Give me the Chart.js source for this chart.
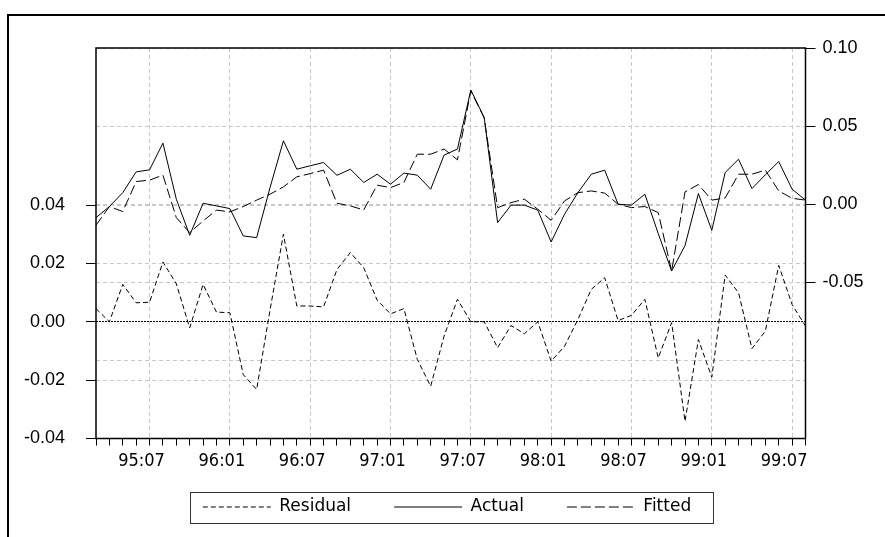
<!DOCTYPE html>
<html>
<head>
<meta charset="utf-8">
<title>Residual / Actual / Fitted</title>
<script src="https://cdn.jsdelivr.net/npm/chart.js@4.4.1/dist/chart.umd.min.js"></script>
<style>
  html, body { margin: 0; padding: 0; background: #fff; overflow: hidden; }
  #moldura {
    position: absolute; left: 7px; top: 14px; width: 1000px; height: 700px;
    border-left: 2px solid #000; border-top: 2px solid #000;
  }
  #wrap { position: absolute; left: 0; top: 0; width: 885px; height: 537px; }
</style>
</head>
<body>
<div id="moldura"></div>
<div id="wrap"><canvas id="chart-resid"></canvas></div>
<script>
// monthly sample 1995:03 - 1999:08
const meses = [
  "95:03", "95:04", "95:05", "95:06", "95:07", "95:08", "95:09", "95:10", "95:11", "95:12",
  "96:01", "96:02", "96:03", "96:04", "96:05", "96:06", "96:07", "96:08", "96:09", "96:10", "96:11", "96:12",
  "97:01", "97:02", "97:03", "97:04", "97:05", "97:06", "97:07", "97:08", "97:09", "97:10", "97:11", "97:12",
  "98:01", "98:02", "98:03", "98:04", "98:05", "98:06", "98:07", "98:08", "98:09", "98:10", "98:11", "98:12",
  "99:01", "99:02", "99:03", "99:04", "99:05", "99:06", "99:07", "99:08"
];

const xTickLabels = ["95:07", "96:01", "96:07", "97:01", "97:07", "98:01", "98:07", "99:01", "99:07"];

// right axis
const actual = [
  -0.0086, -0.0015, 0.0074, 0.0207, 0.0220, 0.0391, 0.0032, -0.0199, 0.0006, -0.0011,
  -0.0028, -0.0203, -0.0214, 0.0106, 0.0406, 0.0224, 0.0246, 0.0267, 0.0185, 0.0224,
  0.0139, 0.0192, 0.0128, 0.0199, 0.0186, 0.0096, 0.0314, 0.0353, 0.0731, 0.0555,
  -0.0118, -0.0006, -0.0006, -0.0038, -0.0242, -0.0064, 0.0074, 0.0192, 0.0218, 0.0000,
  -0.0006, 0.0064, -0.0188, -0.0428, -0.0265, 0.0068, -0.0167, 0.0203, 0.0288, 0.0100,
  0.0188, 0.0273, 0.0096, 0.0026
];

const fitted = [
  -0.0135, -0.0015, -0.0047, 0.0145, 0.0154, 0.0186, -0.0086, -0.0182, -0.0107, -0.0038,
  -0.0049, -0.0015, 0.0026, 0.0064, 0.0111, 0.0175, 0.0196, 0.0218, 0.0006, -0.0011,
  -0.0037, 0.0122, 0.0106, 0.0139, 0.0320, 0.0320, 0.0353, 0.0284, 0.0726, 0.0551,
  -0.0022, 0.0010, 0.0032, -0.0032, -0.0103, 0.0021, 0.0074, 0.0085, 0.0071, 0.0000,
  -0.0022, -0.0015, -0.0054, -0.0428, 0.0079, 0.0126, 0.0026, 0.0040, 0.0192, 0.0192,
  0.0218, 0.0085, 0.0038, 0.0026
];

// left axis
const residual = [
  0.0045, 0.0000, 0.0128, 0.0065, 0.0067, 0.0205, 0.0130, -0.0021, 0.0128, 0.0033,
  0.0031, -0.0181, -0.0232, 0.0040, 0.0300, 0.0054, 0.0054, 0.0051, 0.0179, 0.0237,
  0.0185, 0.0074, 0.0027, 0.0045, -0.0129, -0.0221, -0.0049, 0.0077, 0.0000, 0.0000,
  -0.0089, -0.0013, -0.0041, 0.0000, -0.0135, -0.0084, 0.0008, 0.0111, 0.0151, 0.0004,
  0.0022, 0.0077, -0.0124, -0.0003, -0.0341, -0.0061, -0.0190, 0.0160, 0.0099, -0.0092,
  -0.0032, 0.0193, 0.0059, -0.0015
];

const residTicks = [-0.04, -0.02, 0, 0.02, 0.04];
const levelTicks = [-0.10, -0.05, 0, 0.05, 0.10];

const GRID = "#c8c8c8";
const fonteEixo = { family: "'Liberation Sans', Arial, sans-serif", size: 18 };
const fonteData = { family: "'DejaVu Sans Condensed', 'DejaVu Sans', sans-serif", size: 18 };

// black frame round the plot area
const molduraPlot = {
  id: "molduraPlot",
  afterDatasetsDraw(chart) {
    const { ctx, chartArea: a } = chart;
    ctx.save();
    ctx.strokeStyle = "#000";
    ctx.lineWidth = 1.5;
    ctx.strokeRect(a.left, a.top, a.right - a.left, a.bottom - a.top);
    ctx.restore();
  }
};

// box round the legend items
const quadroLegenda = {
  id: "quadroLegenda",
  afterDraw(chart) {
    const boxes = chart.legend && chart.legend.legendHitBoxes;
    if (!boxes || boxes.length === 0) return;
    const first = boxes[0];
    const last = boxes[boxes.length - 1];
    const yc = first.top + first.height / 2;
    const x0 = Math.round(first.left - 13) + 0.5;
    const x1 = Math.round(last.left + last.width + 22) + 0.5;
    const ctx = chart.ctx;
    ctx.save();
    ctx.strokeStyle = "#333";
    ctx.lineWidth = 1;
    ctx.strokeRect(x0, Math.round(yc - 15.5) + 0.5, x1 - x0, 31);
    ctx.restore();
  }
};

// legend line samples keep each dataset's dash
function gerarLegenda(chart) {
  const itens = Chart.defaults.plugins.legend.labels.generateLabels(chart);
  return itens.map(item => {
    const ds = chart.data.datasets[item.datasetIndex];
    item.lineDash = ds.borderDash || [];
    item.lineWidth = ds.borderWidth;
    item.strokeStyle = ds.borderColor;
    return item;
  });
}

const ctx = document.getElementById("chart-resid").getContext("2d");

new Chart(ctx, {
  type: "line",
  data: {
    labels: meses,
    datasets: [
      {
        label: "Residual",
        data: residual,
        yAxisID: "y",
        borderColor: "#000",
        borderWidth: 1,
        borderDash: [5, 3],
        pointRadius: 0,
        pointStyle: "line",
        tension: 0
      },
      {
        label: "Actual",
        data: actual,
        yAxisID: "y2",
        borderColor: "#000",
        borderWidth: 1,
        pointRadius: 0,
        pointStyle: "line",
        tension: 0
      },
      {
        label: "Fitted",
        data: fitted,
        yAxisID: "y2",
        borderColor: "#000",
        borderWidth: 1,
        borderDash: [10, 4],
        pointRadius: 0,
        pointStyle: "line",
        tension: 0
      }
    ]
  },
  options: {
    responsive: true,
    maintainAspectRatio: false,
    animation: false,
    layout: { padding: { left: 9, right: 0, top: 48, bottom: 11.5 } },
    plugins: {
      tooltip: { enabled: false },
      legend: {
        position: "bottom",
        labels: {
          color: "#000",
          font: { family: "'DejaVu Sans', sans-serif", size: 17 },
          usePointStyle: true,
          pointStyleWidth: 68,
          boxHeight: 17,
          padding: 43,
          generateLabels: gerarLegenda
        }
      }
    },
    scales: {
      x: {
        offset: false,
        // short axis box; mirrored labels are not clipped to it
        afterFit: s => { s.height = 17; },
        ticks: {
          autoSkip: false,
          maxRotation: 0,
          mirror: true,
          labelOffset: -8,
          padding: -34,
          color: "#000",
          font: fonteData,
          callback: (v, i) => (xTickLabels.includes(meses[i]) ? meses[i] : "")
        },
        grid: {
          color: c => (c.tick && xTickLabels.includes(meses[c.index]) ? GRID : "rgba(0,0,0,0)"),
          tickColor: "#000",
          tickLength: 7
        },
        border: { display: false, dash: [4, 3] }
      },
      y: {
        position: "left",
        min: -0.04,
        max: 0.0938,
        afterBuildTicks: s => { s.ticks = residTicks.map(v => ({ value: v })); },
        afterFit: s => { s.width = 87; },
        ticks: {
          color: "#000",
          font: fonteEixo,
          padding: 21,
          callback: v => v.toFixed(2)
        },
        grid: {
          color: c => (c.tick && c.tick.value === 0 ? "#000" : GRID),
          tickColor: "#000",
          tickLength: 10
        },
        border: {
          display: false,
          dash: c => (c.tick && c.tick.value === 0 ? [2, 1] : [4, 3])
        }
      },
      y2: {
        position: "right",
        min: -0.15,
        max: 0.10,
        afterBuildTicks: s => { s.ticks = levelTicks.map(v => ({ value: v })); },
        afterFit: s => { s.width = 79.5; },
        ticks: {
          color: "#000",
          font: fonteEixo,
          padding: 7,
          callback: v => (v < -0.06 ? "" : v.toFixed(2))
        },
        grid: {
          color: GRID,
          tickColor: c => (c.tick && c.tick.value < -0.06 ? "rgba(0,0,0,0)" : "#000"),
          tickLength: 10
        },
        border: { display: false, dash: [4, 3] }
      }
    }
  },
  plugins: [molduraPlot, quadroLegenda]
});
</script>
</body>
</html>
